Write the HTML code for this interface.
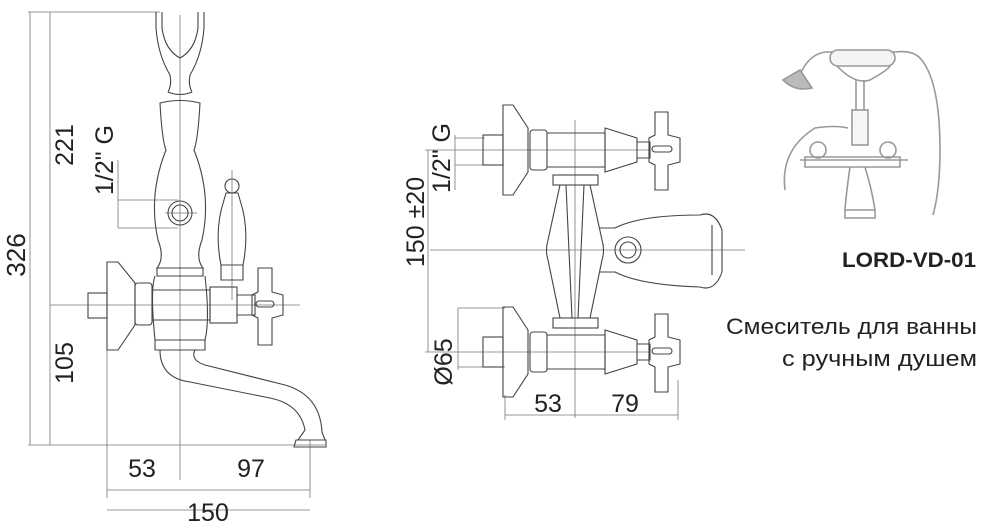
<!DOCTYPE html>
<html><head><meta charset="utf-8"><style>
html,body{margin:0;padding:0;background:#fff;}
svg{display:block}
text{font-family:"Liberation Sans","DejaVu Sans",sans-serif;fill:#222}
</style></head><body>
<svg width="1000" height="530" viewBox="0 0 1000 530" xmlns="http://www.w3.org/2000/svg">
<g fill="none" stroke="#777" stroke-width="0.8">
<line x1="28" y1="12" x2="160" y2="12"/>
<line x1="30" y1="12" x2="30" y2="445"/>
<line x1="50" y1="12" x2="50" y2="445"/>
<line x1="28" y1="445" x2="325" y2="445"/>
<line x1="118" y1="160" x2="118" y2="228"/>
<line x1="118" y1="200" x2="178" y2="200"/>
<line x1="118" y1="228" x2="178" y2="228"/>
<line x1="180" y1="15" x2="180" y2="480"/>
<line x1="107" y1="350" x2="107" y2="498"/>
<line x1="310" y1="440" x2="310" y2="498"/>
<line x1="107" y1="490" x2="310" y2="490"/>
<line x1="107" y1="510" x2="310" y2="510"/>
<line x1="165" y1="213" x2="197" y2="213"/>
<line x1="232" y1="170" x2="232" y2="300"/>
<line x1="50" y1="305" x2="300" y2="305"/>
<line x1="430" y1="250" x2="745" y2="250"/>
<line x1="575" y1="120" x2="575" y2="418"/>
<line x1="428" y1="150" x2="428" y2="352"/>
<line x1="425" y1="150" x2="650" y2="150"/>
<line x1="425" y1="352" x2="650" y2="352"/>
<line x1="455" y1="135" x2="455" y2="190"/>
<line x1="455" y1="138" x2="485" y2="138"/>
<line x1="455" y1="165" x2="485" y2="165"/>
<line x1="458" y1="308" x2="458" y2="370"/>
<line x1="458" y1="308" x2="505" y2="308"/>
<line x1="458" y1="367" x2="505" y2="367"/>
<line x1="505" y1="395" x2="505" y2="420"/>
<line x1="678" y1="380" x2="678" y2="420"/>
<line x1="505" y1="415" x2="678" y2="415"/>
</g>
<g fill="none" stroke="#444" stroke-width="1.1">
<path d="M156 12 V28 Q158 55 170 75 Q172 85 168 92 M204 12 V28 Q202 55 190 75 Q188 85 192 92"/>
<path d="M162 12 V28 Q165 50 180 58 Q195 50 198 28 V12"/>
<path d="M168 92 Q180 97 192 92"/>
<path d="M160 103 Q180 98 200 103 Q198 140 194 150 Q212 195 202 240 Q195 258 203 268 H157 Q165 258 158 240 Q148 195 166 150 Q162 140 160 103Z"/>
<circle cx="180" cy="213" r="12"/><circle cx="180" cy="213" r="8"/>
<path d="M157 268 V276 H203 V268"/>
<path d="M155 276 Q150 290 155 340 H205 Q210 320 205 276"/>
<circle cx="232" cy="186" r="7"/>
<path d="M226 193 H238 L240 200 Q250 230 243 265 H221 Q214 230 224 200Z"/>
<path d="M221 265 V280 H243 V265"/>
<path d="M107 262 L118 262 L135 283 V325 L118 350 H107Z"/>
<rect x="88" y="293" width="19" height="25"/>
<rect x="135" y="283" width="17" height="42" rx="3"/>
<path d="M152 290 H210 V320 H152"/>
<rect x="210" y="287" width="27" height="36"/>
<path d="M237 295 H255 V315 H237"/>
<path d="M258 268 H272 V292 L283 295 V315 L272 318 V345 H258 V318 L252 315 V295 L258 292Z"/>
<rect x="256" y="301" width="18" height="6" rx="3"/>
<path d="M155 340 H205 V350 H155Z"/>
<path d="M160 350 Q160 378 190 382 L270 398 Q300 404 305 430 L298 440 H325 L322 432 Q320 395 285 385 L205 365 Q190 360 195 350"/>
<path d="M296 440 H326 V447 H294Z"/>
<g id="valve">
<path d="M503 105 H513 L528 128 V172 L513 195 H503Z"/>
<rect x="483" y="135" width="20" height="30"/>
<rect x="530" y="130" width="17" height="40" rx="3"/>
<path d="M547 133 H605 V167 H547"/>
<path d="M605 128 L637 138 V162 L605 172Z"/>
<path d="M637 142 H650 V158 H637"/>
<path d="M655 112 H668 V135 L680 138 V162 L668 165 V190 H655 V165 L649 162 V138 L655 135Z"/>
<rect x="652" y="146" width="20" height="6" rx="3"/>
</g>
<use href="#valve" transform="translate(0,202)"/>
<rect x="553" y="175" width="45" height="10"/>
<rect x="553" y="318" width="45" height="10"/>
<path d="M560 185 L548 240 Q545 250 548 260 L560 318 M590 185 L602 240 Q605 250 602 260 L590 318"/>
<path d="M566 185 L572 318 M584 185 L578 318"/>
<path d="M600 228 H615 Q640 215 700 215 Q715 210 722 230 V272 Q715 292 700 287 Q640 285 615 272 H600"/>
<circle cx="628" cy="250" r="13"/><circle cx="628" cy="250" r="8"/>
<path d="M712 225 V275"/>
</g>
<!-- photo approximation -->
<g fill="none" stroke="#999" stroke-width="1.6">
<path d="M800 75 Q808 55 825 52 H895 Q912 50 920 58 Q940 80 940 150 Q940 190 933 215"/>
<rect x="830" y="50" width="65" height="16" rx="8" fill="#f4f4f4"/>
<path d="M837 66 Q855 85 870 80 Q888 70 890 66"/>
<path d="M856 80 V115 M864 80 V115"/>
<rect x="852" y="110" width="16" height="35" fill="#f6f6f6"/>
<path d="M783 80 L800 70 L812 88 Q795 92 783 80Z" fill="#bbb"/>
<path d="M785 190 Q780 150 815 128 Q835 125 848 128"/>
<path d="M800 160 H908"/>
<path d="M805 157 H900 V167 H805Z"/>
<circle cx="818" cy="150" r="8"/><circle cx="888" cy="150" r="8"/>
<path d="M850 167 Q846 195 845 210 H875 Q872 190 865 167"/>
<path d="M845 210 V218 H875 V210"/>
</g>
<g font-size="25">
<text transform="translate(25,255) rotate(-90)" text-anchor="middle" font-size="26">326</text>
<text transform="translate(73,145) rotate(-90)" text-anchor="middle">221</text>
<text transform="translate(73,363) rotate(-90)" text-anchor="middle">105</text>
<text transform="translate(113,160) rotate(-90)" text-anchor="middle">1/2" G</text>
<text x="142" y="477" text-anchor="middle">53</text>
<text x="251" y="477" text-anchor="middle">97</text>
<text x="208" y="521" text-anchor="middle">150</text>
<text transform="translate(424,222) rotate(-90)" text-anchor="middle">150 ±20</text>
<text transform="translate(450,158) rotate(-90)" text-anchor="middle">1/2" G</text>
<text transform="translate(452,362) rotate(-90)" text-anchor="middle">Ø65</text>
<text x="548" y="412" text-anchor="middle">53</text>
<text x="625" y="412" text-anchor="middle">79</text>
</g>
<text x="842" y="267" font-size="21" font-weight="bold" textLength="134" lengthAdjust="spacingAndGlyphs">LORD-VD-01</text>
<text x="726" y="334" font-size="22" textLength="251" lengthAdjust="spacingAndGlyphs">Смеситель для ванны</text>
<text x="782" y="366" font-size="22" textLength="195" lengthAdjust="spacingAndGlyphs">с ручным душем</text>
</svg>
</body></html>
